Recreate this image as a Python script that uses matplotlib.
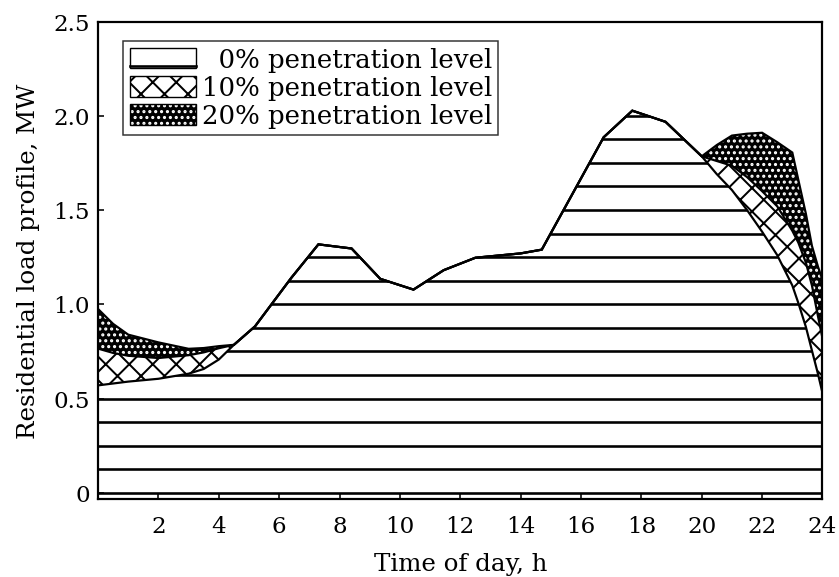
import matplotlib
matplotlib.use("Agg")
import matplotlib.pyplot as plt
import numpy as np
from matplotlib.patches import Patch, Rectangle
from matplotlib.lines import Line2D
from matplotlib.legend_handler import HandlerBase

# ---------------- data ----------------
HOURS = [0, 0.5, 1, 2, 3, 3.5, 4, 4.5,
         5.2, 6.4, 7.3, 8.4, 9.35, 10.45, 11.45, 12.5, 14.0, 14.7, 16.75, 17.7, 18.8,
         20.0, 20.5, 21.0, 21.5, 22.0, 22.5, 23.0, 23.2, 23.45, 23.65, 23.85, 24.0]

LOAD_0 = [0.57, 0.58, 0.59, 0.605, 0.632, 0.657, 0.707, 0.785,
          0.883, 1.14, 1.318, 1.296, 1.135, 1.078, 1.181, 1.247, 1.27, 1.29, 1.886, 2.027, 1.968,
          1.785, 1.69, 1.606, 1.50, 1.385, 1.261, 1.10, 1.007, 0.88, 0.755, 0.631, 0.53]

LOAD_10 = [0.765, 0.742, 0.727, 0.715, 0.73, 0.745, 0.767, 0.785,
           0.883, 1.14, 1.318, 1.296, 1.135, 1.078, 1.181, 1.247, 1.27, 1.29, 1.886, 2.027, 1.968,
           1.785, 1.76, 1.735, 1.675, 1.60, 1.52, 1.39, 1.327, 1.221, 1.10, 0.937, 0.82]

LOAD_20 = [0.975, 0.896, 0.839, 0.798, 0.764, 0.768, 0.778, 0.785,
           0.883, 1.14, 1.318, 1.296, 1.135, 1.078, 1.181, 1.247, 1.27, 1.29, 1.886, 2.027, 1.968,
           1.785, 1.845, 1.895, 1.905, 1.91, 1.86, 1.805, 1.66, 1.48, 1.31, 1.2, 1.13]

SERIES_LABELS = ["  0% penetration level", "10% penetration level", "20% penetration level"]
X_TICKS = [2, 4, 6, 8, 10, 12, 14, 16, 18, 20, 22, 24]
X_TICK_LABELS = ["2", "4", "6", "8", "10", "12", "14", "16", "18", "20", "22", "24"]
Y_TICKS = [0, 0.5, 1.0, 1.5, 2.0, 2.5]
Y_TICK_LABELS = ["0", "0.5", "1.0", "1.5", "2.0", "2.5"]
X_LABEL = "Time of day, h"
Y_LABEL = "Residential load profile, MW"

# ---------------- style ----------------
DPI = 141
W, H = 839, 577
PX = 72.0 / DPI          # points per pixel
HATCH_STEP = 0.125       # spacing of the horizontal hatch lines (MW)
YLIM = (-0.035, 2.5)
CROSS_HATCH = "xx"
DOT_HATCH = "...."

plt.rcParams["font.family"] = ["DejaVu Serif"]
plt.rcParams["hatch.linewidth"] = 2.0 * PX

fig = plt.figure(figsize=((W + 0.5) / DPI, (H + 0.5) / DPI), dpi=DPI)
ax = fig.add_axes([98 / W, 77.5 / H, 724 / W, 477.5 / H])
ax.set_xlim(0, 24)
ax.set_ylim(*YLIM)

# 0 % area: white with horizontal lines clipped to the area
zero_fill = ax.fill_between(HOURS, YLIM[0], LOAD_0, facecolor="white",
                            edgecolor="none", linewidth=0, zorder=1)
levels = np.arange(0, max(LOAD_0), HATCH_STEP)
hl = ax.hlines(levels, 0, 24, colors="black", linewidth=2.6 * PX, zorder=2)
hl.set_clip_path(zero_fill.get_paths()[0], ax.transData)

# 10 % area: cross hatch
ax.fill_between(HOURS, LOAD_0, LOAD_10, facecolor="white", edgecolor="black",
                hatch=CROSS_HATCH, linewidth=0, zorder=3)
# 20 % area: black with white dots
ax.fill_between(HOURS, LOAD_10, LOAD_20, facecolor="black", edgecolor="white",
                hatch=DOT_HATCH, linewidth=0, zorder=3)

for series in (LOAD_0, LOAD_10, LOAD_20):
    ax.plot(HOURS, series, color="black", linewidth=2.2 * PX, zorder=4,
            solid_joinstyle="miter")

# axes styling
for sp in ax.spines.values():
    sp.set_linewidth(2.2 * PX)
    sp.set_zorder(5)
ax.set_xticks(X_TICKS)
ax.set_xticklabels(X_TICK_LABELS)
ax.set_yticks(Y_TICKS)
ax.set_yticklabels(Y_TICK_LABELS)
ax.tick_params(direction="in", length=6 * PX, width=1.6 * PX,
               top=False, right=False, labelsize=23 * PX, colors="black")
ax.tick_params(axis="x", pad=16 * PX)
ax.tick_params(axis="y", pad=8 * PX)
ax.set_xlabel(X_LABEL, fontsize=24.5 * PX, labelpad=15 * PX)
ax.set_ylabel(Y_LABEL, fontsize=24.5 * PX, labelpad=13 * PX)


class ZeroHandler(HandlerBase):
    def create_artists(self, legend, orig_handle, xdescent, ydescent,
                       width, height, fontsize, trans):
        r = Rectangle((-xdescent, -ydescent), width, height, facecolor="white",
                      edgecolor="black", linewidth=1.4 * PX, transform=trans)
        ly = -ydescent + 0.14 * height
        ln = Line2D([-xdescent, -xdescent + width], [ly, ly], color="black",
                    linewidth=2.6 * PX, transform=trans)
        return [r, ln]


class ZeroKey:
    pass


handles = [ZeroKey(),
           Patch(facecolor="white", edgecolor="black", hatch=CROSS_HATCH, linewidth=1.4 * PX),
           Patch(facecolor="black", edgecolor="black", hatch=DOT_HATCH, linewidth=1.4 * PX)]
# the 20% key needs white dots: set its hatch colour separately
handles[2]._hatch_color = (1, 1, 1, 1)

LEG_FS = 26 * PX
leg = ax.legend(handles, SERIES_LABELS, loc="upper left",
                bbox_to_anchor=(0.0345, 0.960), borderaxespad=0,
                fontsize=LEG_FS, frameon=True, fancybox=False, framealpha=1,
                edgecolor="#333333", handlelength=66 / 26, handleheight=22 / 26,
                handletextpad=6 / 26, borderpad=0.25, labelspacing=0.12,
                handler_map={ZeroKey: ZeroHandler()})
leg.get_frame().set_linewidth(1.5 * PX)
leg.set_zorder(6)

fig.savefig("out.png", dpi=DPI, facecolor="white")
